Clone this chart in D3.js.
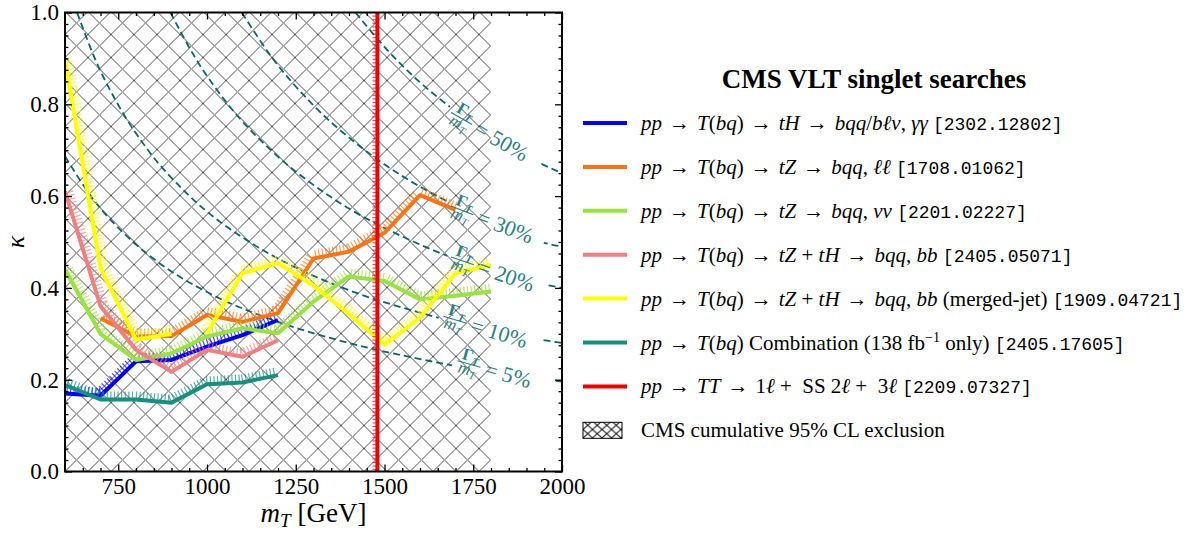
<!DOCTYPE html>
<html>
<head>
<meta charset="utf-8">
<script src="https://cdn.jsdelivr.net/npm/d3@7"></script>
<style>
body { margin: 0; background: #fff; }
svg { display: block; }
text { font-family: "Liberation Serif", "DejaVu Serif", serif; white-space: pre; }
</style>
</head>
<body>
<svg id="chart"></svg>
<script>
// ---- data ----
const blueM = [600, 700, 800, 900, 1000, 1100, 1200];
const blueK = [0.170, 0.165, 0.240, 0.243, 0.272, 0.297, 0.330];

const orangeM = [700, 800, 900, 1000, 1100, 1200, 1300, 1400, 1500, 1600, 1700];
const orangeK = [0.334, 0.294, 0.295, 0.341, 0.326, 0.345, 0.464, 0.479, 0.520, 0.602, 0.570];

const greenM = [600, 700, 800, 900, 1000, 1100, 1200, 1300, 1400, 1500, 1600, 1700, 1800];
const greenK = [0.440, 0.300, 0.243, 0.257, 0.294, 0.312, 0.301, 0.370, 0.425, 0.415, 0.375, 0.383, 0.392];

const pinkM = [600, 700, 800, 900, 1000, 1100, 1200];
const pinkK = [0.610, 0.360, 0.265, 0.217, 0.265, 0.250, 0.286];

// null = gap in the published curve
const yellowM = [600, 700, 800, 900, 950, 1000, 1100, 1200, 1300, 1400, 1500, 1600, 1700, 1800];
const yellowK = [0.895, 0.443, 0.287, 0.300, null, 0.301, 0.432, 0.454, 0.405, 0.343, 0.276, 0.335, 0.432, 0.450];

const tealM = [600, 700, 800, 900, 1000, 1100, 1200];
const tealK = [0.188, 0.157, 0.157, 0.150, 0.190, 0.194, 0.210];

const redM = [1480, 1480];
const redK = [0, 1];

// cumulative exclusion (hatched)
const hatchM = [600, 1800];
const hatchK = [0, 1];

// constant width / mass contours
const widthNames = ["5%", "10%", "20%", "30%", "50%"];
const w5M = [600, 673, 792, 873, 1000, 1200, 1400, 1600, 1800, 2000];
const w5K = [0.687, 0.600, 0.500, 0.450, 0.391, 0.326, 0.280, 0.245, 0.217, 0.196];
const w10M = [634, 684, 749, 834, 951, 1120, 1235, 1400, 1600, 1800, 2000];
const w10K = [1.0, 0.9, 0.8, 0.7, 0.6, 0.5, 0.45, 0.395, 0.346, 0.307, 0.280];
const w20M = [897, 968, 1059, 1180, 1345, 1584, 1747, 1850, 2000];
const w20K = [1.0, 0.9, 0.8, 0.7, 0.6, 0.5, 0.45, 0.425, 0.400];
const w30M = [1098, 1185, 1297, 1445, 1648, 1800, 1940, 2000];
const w30K = [1.0, 0.9, 0.8, 0.7, 0.6, 0.545, 0.5, 0.490];
const w50M = [1418, 1530, 1597, 1675, 1763, 1866, 2000];
const w50K = [1.0, 0.9, 0.85, 0.8, 0.75, 0.7, 0.650];
const widthLabelM = [1830, 1790, 1810, 1808, 1800];

const xMajor = [750, 1000, 1250, 1500, 1750, 2000];
const yMajor = [0, 0.2, 0.4, 0.6, 0.8, 1.0];

const legendTitle = "CMS VLT singlet searches";
const legendLabels = [
  "{pp} → {T}({bq}) → {tH} → {bqq}/{bℓν}, {γγ} `[2302.12802]`",
  "{pp} → {T}({bq}) → {tZ} → {bqq}, {ℓℓ} `[1708.01062]`",
  "{pp} → {T}({bq}) → {tZ} → {bqq}, {νν} `[2201.02227]`",
  "{pp} → {T}({bq}) → {tZ} + {tH} → {bqq}, {bb} `[2405.05071]`",
  "{pp} → {T}({bq}) → {tZ} + {tH} → {bqq}, {bb} (merged-jet) `[1909.04721]`",
  "{pp} → {T}({bq}) Combination (138 fb^[−1] only) `[2405.17605]`",
  "{pp} → {TT} → 1{ℓ} +  SS 2{ℓ} +  3{ℓ} `[2209.07327]`",
  "CMS cumulative 95% CL exclusion"
];

// ---- setup ----
const width = 1197, height = 534;
const plotL = 65, plotR = 562, plotT = 12.5, plotB = 471.5;

const svg = d3.select("#chart").attr("width", width).attr("height", height);

const xScale = d3.scaleLinear().domain([600, 2000]).range([plotL, plotR]);
const yScale = d3.scaleLinear().domain([0, 1]).range([plotB, plotT]);

const series = [
  { m: blueM, k: blueK, color: "#0000ff" },
  { m: orangeM, k: orangeK, color: "#ff7410" },
  { m: greenM, k: greenK, color: "#9ae23f" },
  { m: pinkM, k: pinkK, color: "#f08080" },
  { m: yellowM, k: yellowK, color: "#ffff00" },
  { m: tealM, k: tealK, color: "#14907f" },
  { m: redM, k: redK, color: "#ee0000" }
];
const widths = [
  { m: w5M, k: w5K, angle: 16 },
  { m: w10M, k: w10K, angle: 17 },
  { m: w20M, k: w20K, angle: 19 },
  { m: w30M, k: w30K, angle: 21 },
  { m: w50M, k: w50K, angle: 30 }
];

const defs = svg.append("defs");
defs.append("clipPath").attr("id", "plotclip")
  .append("rect").attr("x", plotL).attr("y", plotT)
  .attr("width", plotR - plotL).attr("height", plotB - plotT);

const hp = 23;
const hatch = defs.append("pattern").attr("id", "hatch")
  .attr("patternUnits", "userSpaceOnUse").attr("width", hp).attr("height", hp)
  .attr("x", plotL).attr("y", plotB);
hatch.append("path").attr("d", `M0,0L${hp},${hp}M${hp},0L0,${hp}`)
  .attr("stroke", "#555").attr("stroke-width", 1).attr("fill", "none");

const hatchSmall = defs.append("pattern").attr("id", "hatchSmall")
  .attr("patternUnits", "userSpaceOnUse").attr("width", 9.5).attr("height", 8.5)
  .attr("x", 583).attr("y", 421);
hatchSmall.append("path").attr("d", "M0,0L9.5,8.5M9.5,0L0,8.5")
  .attr("stroke", "#111").attr("stroke-width", 1).attr("fill", "none");

const plot = svg.append("g").attr("clip-path", "url(#plotclip)");

// hatched exclusion
plot.append("rect")
  .attr("x", xScale(hatchM[0])).attr("y", yScale(hatchK[1]))
  .attr("width", xScale(hatchM[1]) - xScale(hatchM[0]))
  .attr("height", yScale(hatchK[0]) - yScale(hatchK[1]))
  .attr("fill", "url(#hatch)");

// ---- width contours ----
const zip = (ms, ks) => ms.map((m, i) => ({ m: m, k: ks[i] }));

const mask = defs.append("mask").attr("id", "labelmask").attr("maskUnits", "userSpaceOnUse")
  .attr("x", 0).attr("y", 0).attr("width", width).attr("height", height);
mask.append("rect").attr("width", width).attr("height", height).attr("fill", "#fff");

const contourLine = d3.line().x(d => xScale(d.m)).y(d => yScale(d.k)).curve(d3.curveMonotoneX);

const labelPos = widths.map((w, i) => {
  const interp = d3.scaleLinear().domain(w.m).range(w.k);
  const m = widthLabelM[i];
  return { x: xScale(m), y: yScale(interp(m)), angle: w.angle, name: widthNames[i] };
});

labelPos.forEach(p => {
  mask.append("rect").attr("x", -50).attr("y", -12).attr("width", 104).attr("height", 24)
    .attr("fill", "#000")
    .attr("transform", `translate(${p.x},${p.y}) rotate(${p.angle})`);
});

plot.append("g").attr("mask", "url(#labelmask)")
  .selectAll("path").data(widths).enter().append("path")
  .attr("d", w => contourLine(zip(w.m, w.k)))
  .attr("fill", "none").attr("stroke", "#0b6666")
  .attr("stroke-width", 1.8).attr("stroke-dasharray", "7,4");

const labelColor = "#2b7f7f";
labelPos.forEach(p => {
  const g = svg.append("g").attr("transform", `translate(${p.x},${p.y}) rotate(${p.angle})`)
    .attr("fill", labelColor);
  const fx = -34;
  const num = g.append("text").attr("x", fx).attr("y", -3).attr("text-anchor", "middle")
    .attr("font-size", 17).attr("font-weight", "bold");
  num.append("tspan").text("Γ");
  num.append("tspan").attr("font-size", 11).attr("font-style", "italic").attr("dy", 3).text("T");
  g.append("line").attr("x1", fx - 12).attr("x2", fx + 12).attr("y1", 0).attr("y2", 0)
    .attr("stroke", labelColor).attr("stroke-width", 1.1);
  const den = g.append("text").attr("x", fx).attr("y", 11).attr("text-anchor", "middle")
    .attr("font-size", 17).attr("font-style", "italic");
  den.append("tspan").text("m");
  den.append("tspan").attr("font-size", 11).attr("dy", 3).text("T");
  g.append("text").attr("x", -17).attr("y", 7).attr("font-size", 22)
    .text("= " + p.name);
});

// ---- data lines with ticked (exclusion-side) strokes ----
const dataLine = d3.line().defined(d => d.k != null)
  .x(d => xScale(d.m)).y(d => yScale(d.k));

function tickSegments(pts, spacing, len) {
  const out = [];
  let carry = spacing / 2;
  for (let i = 0; i < pts.length - 1; i++) {
    const [x0, y0] = pts[i], [x1, y1] = pts[i + 1];
    const dx = x1 - x0, dy = y1 - y0, L = Math.hypot(dx, dy);
    if (L === 0) continue;
    const nx = dy / L, ny = -dx / L;
    let s = carry;
    while (s <= L) {
      const px = x0 + dx * s / L, py = y0 + dy * s / L;
      out.push([px, py, px + nx * len, py + ny * len]);
      s += spacing;
    }
    carry = s - L;
  }
  return out;
}

series.forEach((s, si) => {
  const pts = zip(s.m, s.k);
  // split into runs at gaps
  const runs = [];
  let cur = [];
  pts.forEach(p => {
    if (p.k == null) { if (cur.length) runs.push(cur); cur = []; }
    else cur.push([xScale(p.m), yScale(p.k)]);
  });
  if (cur.length) runs.push(cur);

  const tickLen = si === series.length - 1 ? 5 : 8;
  const g = plot.append("g");
  runs.forEach(run => {
    g.selectAll(null).data(tickSegments(run, 3.6, tickLen)).enter().append("line")
      .attr("x1", d => d[0]).attr("y1", d => d[1])
      .attr("x2", d => d[2]).attr("y2", d => d[3])
      .attr("stroke", s.color).attr("stroke-width", 1.2).attr("opacity", 0.7);
  });
  g.append("path").attr("d", dataLine(pts))
    .attr("fill", "none").attr("stroke", s.color).attr("stroke-width", 4)
    .attr("stroke-linejoin", "round").attr("stroke-linecap", "butt");
});

// ---- axes ----
const xMinor = d3.range(650, 2000, 50).filter(v => !xMajor.includes(v));
const yMinor = d3.range(0.025, 1, 0.025).filter(v => !yMajor.some(t => Math.abs(t - v) < 1e-6));

function styleAxis(g) {
  g.select(".domain").remove();
  g.selectAll(".tick line").attr("stroke", "#000").attr("stroke-width", 1.3);
  g.selectAll(".tick text").attr("font-family", "Liberation Serif, DejaVu Serif, serif")
    .attr("font-size", 23).attr("fill", "#000");
}

const fmt1 = d3.format(".1f");
const fmtX = d3.format("d");

svg.append("g").attr("transform", `translate(0,${plotB})`)
  .call(d3.axisBottom(xScale).tickValues(xMajor).tickSize(-7).tickPadding(6).tickFormat(fmtX))
  .call(styleAxis);
svg.append("g").attr("transform", `translate(0,${plotB})`)
  .call(d3.axisBottom(xScale).tickValues(xMinor).tickSize(-3.5).tickFormat(""))
  .call(styleAxis);
svg.append("g").attr("transform", `translate(0,${plotT})`)
  .call(d3.axisTop(xScale).tickValues(xMajor).tickSize(-7).tickFormat(""))
  .call(styleAxis);
svg.append("g").attr("transform", `translate(0,${plotT})`)
  .call(d3.axisTop(xScale).tickValues(xMinor).tickSize(-3.5).tickFormat(""))
  .call(styleAxis);

svg.append("g").attr("transform", `translate(${plotL},0)`)
  .call(d3.axisLeft(yScale).tickValues(yMajor).tickSize(-7).tickPadding(6).tickFormat(fmt1))
  .call(styleAxis);
svg.append("g").attr("transform", `translate(${plotL},0)`)
  .call(d3.axisLeft(yScale).tickValues(yMinor).tickSize(-3.5).tickFormat(""))
  .call(styleAxis);
svg.append("g").attr("transform", `translate(${plotR},0)`)
  .call(d3.axisRight(yScale).tickValues(yMajor).tickSize(-7).tickFormat(""))
  .call(styleAxis);
svg.append("g").attr("transform", `translate(${plotR},0)`)
  .call(d3.axisRight(yScale).tickValues(yMinor).tickSize(-3.5).tickFormat(""))
  .call(styleAxis);

svg.append("rect").attr("x", plotL).attr("y", plotT)
  .attr("width", plotR - plotL).attr("height", plotB - plotT)
  .attr("fill", "none").attr("stroke", "#000").attr("stroke-width", 2);

// axis labels
const xl = svg.append("text").attr("x", (plotL + plotR) / 2).attr("y", 522)
  .attr("text-anchor", "middle").attr("font-size", 27);
xl.append("tspan").attr("font-style", "italic").text("m");
xl.append("tspan").attr("font-style", "italic").attr("font-size", 19).attr("dy", 5).text("T");
xl.append("tspan").attr("dy", -5).text(" [GeV]");

svg.append("text").attr("transform", `translate(24,${(plotT + plotB) / 2}) rotate(-90)`)
  .attr("text-anchor", "middle").attr("font-size", 26).attr("font-style", "italic").text("κ");

// ---- legend ----
const legX = 583, legY0 = 123, legStep = 43.9, legText = 641;
const legFont = 21, monoFont = 18;

svg.append("text").attr("x", 874).attr("y", 88).attr("text-anchor", "middle")
  .attr("font-size", 27).attr("font-weight", "bold").text(legendTitle);

function richText(t, str) {
  const re = /\{([^}]*)\}|`([^`]*)`|\^\[([^\]]*)\]|([^{`^]+)/g;
  let m, lift = 0;
  while ((m = re.exec(str))) {
    let ts;
    if (m[1] != null) ts = t.append("tspan").attr("font-style", "italic").text(m[1]);
    else if (m[2] != null) ts = t.append("tspan")
      .attr("font-family", "Liberation Mono, DejaVu Sans Mono, monospace")
      .attr("font-size", monoFont).text(m[2]);
    else if (m[3] != null) { t.append("tspan").attr("font-size", 14).attr("dy", -8).text(m[3]); lift = 8; continue; }
    else ts = t.append("tspan").text(m[4].replace(/ → /g, " \u200A→\u200A "));
    if (lift) { ts.attr("dy", lift); lift = 0; }
  }
}

legendLabels.forEach((lab, i) => {
  const cy = legY0 + i * legStep;
  if (i < series.length) {
    svg.append("line").attr("x1", legX).attr("x2", legX + 44).attr("y1", cy).attr("y2", cy)
      .attr("stroke", series[i].color).attr("stroke-width", 4);
  } else {
    svg.append("rect").attr("x", legX).attr("y", cy - 8).attr("width", 39).attr("height", 16)
      .attr("fill", "url(#hatchSmall)").attr("stroke", "#000").attr("stroke-width", 1);
  }
  const t = svg.append("text").attr("x", legText).attr("y", cy + 7).attr("font-size", legFont);
  richText(t, lab);
});
</script>
</body>
</html>
